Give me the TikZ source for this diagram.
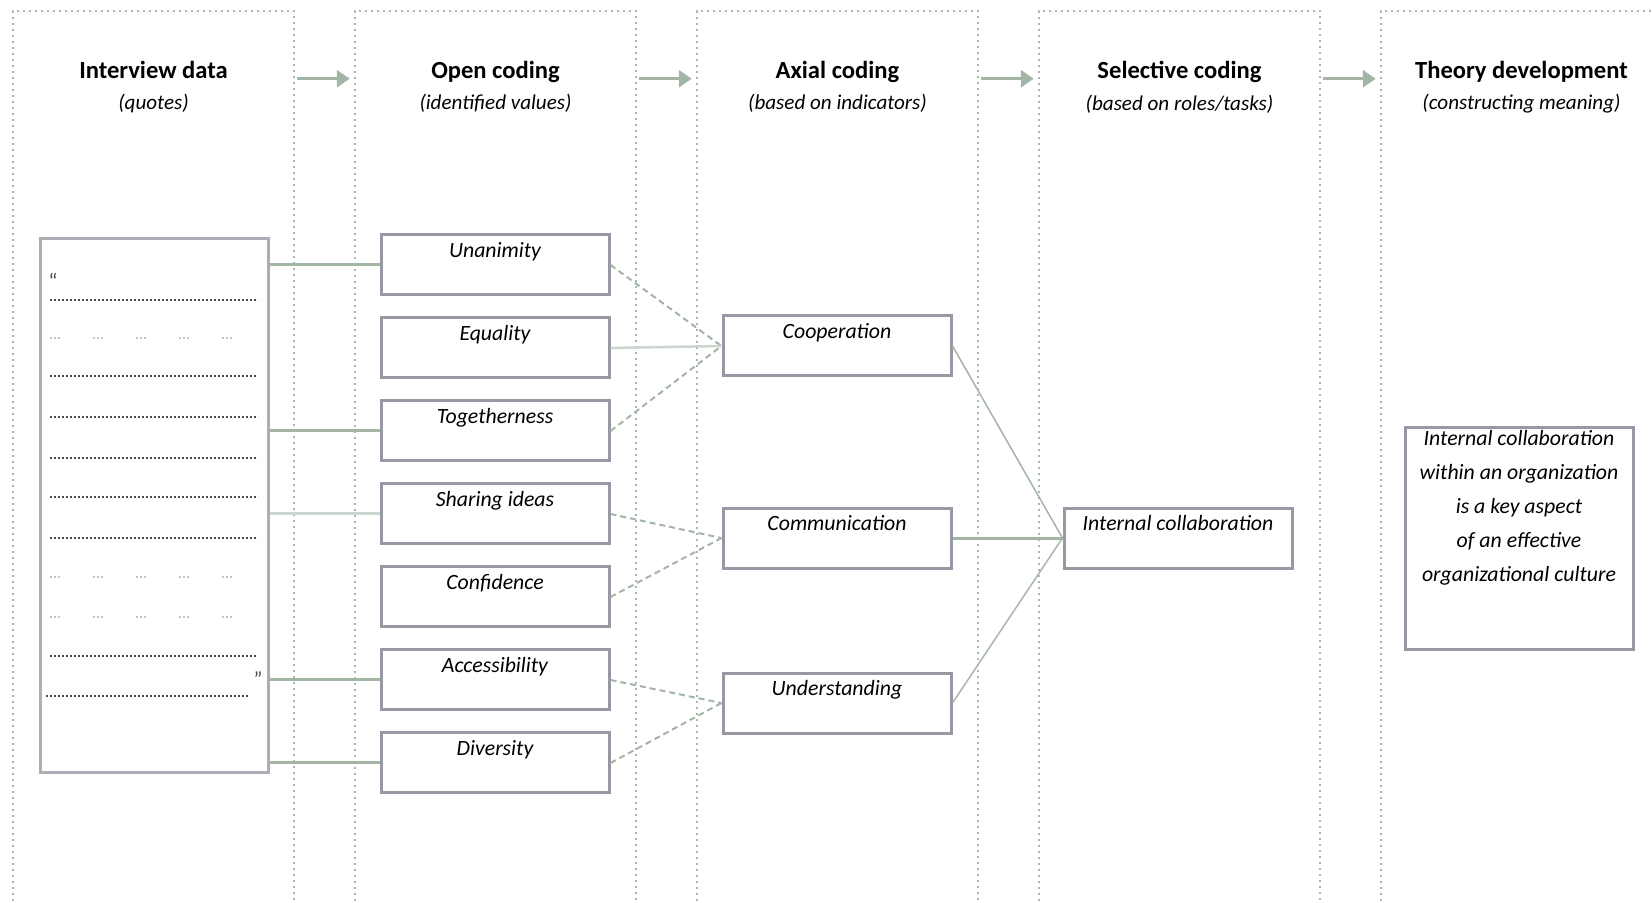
\documentclass[tikz,border=0pt]{standalone}
\usepackage{fontspec}
\setmainfont{Carlito}
\usetikzlibrary{positioning,arrows.meta}
\definecolor{sage}{HTML}{A3B5A5}
\definecolor{sagelight}{HTML}{CDD6CE}
\definecolor{lanecol}{HTML}{A9B8AA}
\definecolor{boxgray}{HTML}{9898A4}
\definecolor{quotegray}{HTML}{4A4A4A}

\begin{document}
\begin{tikzpicture}[
    x=0.1mm, y=-0.1mm,
    node distance=2mm and 5.85mm,
    lane/.style={draw=lanecol, line width=0.25mm, dash pattern=on 0.25mm off 0.35mm,
                 minimum width=28.1mm, minimum height=92mm, inner sep=0pt},
    head/.style={align=center, font=\fontsize{7}{9}\selectfont},
    box/.style={draw=boxgray, line width=0.3mm, minimum width=22.8mm,
                minimum height=6mm, inner sep=0pt},
    tag/.style={anchor=north, inner sep=0.8mm, font=\fontsize{6.2}{9.7}\selectfont\itshape},
    flow/.style={-{Triangle[length=1.3mm,width=1.7mm]}, draw=sage, line width=0.3mm},
    feed/.style={draw=sage, line width=0.3mm},
    merge/.style={draw=sage, line width=0.2mm, dash pattern=on 0.6mm off 0.4mm},
    fine/.style={draw=sage, line width=0.15mm},
    qdark/.style={draw=quotegray, line width=0.2mm, dash pattern=on 0.2mm off 0.2mm},
    qlight/.style={draw=gray!45, line width=0.2mm,
                   dash pattern=on 0.2mm off 0.2mm on 0.2mm off 0.2mm on 0.2mm off 3.3mm}
  ]
    \clip (0,0) rectangle (1652,903);

    % Lanes: one per analysis step
    \node[lane] (lane1) at (153.5,471) {};
    \node[lane, right=of lane1] (lane2) {};
    \node[lane, right=of lane2] (lane3) {};
    \node[lane, right=of lane3] (lane4) {};
    \node[lane, right=of lane4] (lane5) {};

    % Lane headings
    \node[head] (head1) at (lane1.north |- 0,87)
      {\textbf{Interview data}\\{\fontsize{6}{9}\selectfont\itshape (quotes)}};
    \node[head] (head2) at (lane2.north |- 0,87)
      {\textbf{Open coding}\\{\fontsize{6}{9}\selectfont\itshape (identified values)}};
    \node[head] (head3) at (lane3.north |- 0,87)
      {\textbf{Axial coding}\\{\fontsize{6}{9}\selectfont\itshape (based on indicators)}};
    \node[head] (head4) at (lane4.north |- 0,87)
      {\textbf{Selective coding}\\{\fontsize{6}{9}\selectfont\itshape (based on roles/tasks)}};
    \node[head] (head5) at (lane5.north |- 0,87)
      {\textbf{Theory development}\\{\fontsize{6}{9}\selectfont\itshape (constructing meaning)}};

    % Interview quotes
    \node[box, draw=boxgray!80, minimum height=53.4mm] (quotes) at (154,505) {};
    \foreach \y/\kind in {300/qdark, 338/qlight, 376/qdark, 417/qdark, 458/qdark,
                          497/qdark, 538/qdark, 577/qlight, 617/qlight, 656/qdark}
      \draw[\kind] (50,\y) -- (258,\y);
    \draw[qdark] (46,696) -- (250,696);
    \node[font=\fontsize{6}{6}\selectfont, text=quotegray] (openq) at (53,281) {\textquotedblleft};
    \node[font=\fontsize{6}{6}\selectfont, text=quotegray] (closeq) at (258,679) {\textquotedblright};

    % Open coding: identified values
    \node[box, label={[tag]north:Unanimity}] (unanimity) at (495,265) {};
    \node[box, below=of unanimity, label={[tag]north:Equality}] (equality) {};
    \node[box, below=of equality, label={[tag]north:Togetherness}] (togetherness) {};
    \node[box, below=of togetherness, label={[tag]north:Sharing ideas}] (sharing) {};
    \node[box, below=of sharing, label={[tag]north:Confidence}] (confidence) {};
    \node[box, below=of confidence, label={[tag]north:Accessibility}] (accessibility) {};
    \node[box, below=of accessibility, label={[tag]north:Diversity}] (diversity) {};

    % Axial coding: indicators
    \node[box, label={[tag]north:Cooperation}] (cooperation) at (837,346) {};
    \node[box, label={[tag]north:Communication}] (communication) at (837,538) {};
    \node[box, label={[tag]north:Understanding}] (understanding) at (837,703) {};

    % Selective coding and theory
    \node[box, right=11mm of communication,
          label={[tag]north:Internal collaboration}] (collab) {};
    \node[box, minimum height=22.2mm, right=11mm of collab,
          label={[tag, align=center, inner sep=0.4mm]north:Internal collaboration\\
            within an organization\\is a key aspect\\of an effective\\organizational culture}] (theory) {};

    % Arrows between lanes
    \draw[flow] ([xshift=0.2mm,yshift=-6.9mm]lane1.north east) -- ([xshift=-0.4mm,yshift=-6.9mm]lane2.north west);
    \draw[flow] ([xshift=0.2mm,yshift=-6.9mm]lane2.north east) -- ([xshift=-0.4mm,yshift=-6.9mm]lane3.north west);
    \draw[flow] ([xshift=0.2mm,yshift=-6.9mm]lane3.north east) -- ([xshift=-0.4mm,yshift=-6.9mm]lane4.north west);
    \draw[flow] ([xshift=0.2mm,yshift=-6.9mm]lane4.north east) -- ([xshift=-0.4mm,yshift=-6.9mm]lane5.north west);

    % Quotes to values
    \draw[feed] (unanimity.west -| quotes.east) -- (unanimity.west);
    \draw[feed] (togetherness.west -| quotes.east) -- (togetherness.west);
    \draw[feed, draw=sagelight] (sharing.west -| quotes.east) -- (sharing.west);
    \draw[feed] (accessibility.west -| quotes.east) -- (accessibility.west);
    \draw[feed] (diversity.west -| quotes.east) -- (diversity.west);

    % Values to indicators
    \draw[merge] (unanimity.east) -- (cooperation.west);
    \draw[fine, draw=sagelight, line width=0.25mm] (equality.east) -- (cooperation.west);
    \draw[merge] (togetherness.east) -- (cooperation.west);
    \draw[merge] (sharing.east) -- (communication.west);
    \draw[merge] (confidence.east) -- (communication.west);
    \draw[merge] (accessibility.east) -- (understanding.west);
    \draw[merge] (diversity.east) -- (understanding.west);

    % Indicators to role
    \draw[fine] (cooperation.east) -- (collab.west);
    \draw[feed] (communication.east) -- (collab.west);
    \draw[fine] (understanding.east) -- (collab.west);
\end{tikzpicture}
\end{document}
